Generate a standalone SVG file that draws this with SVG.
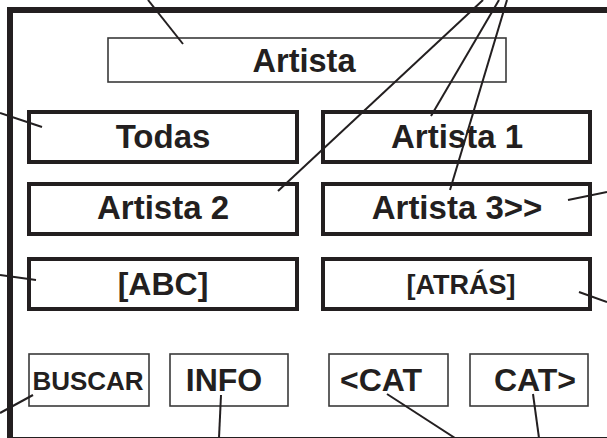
<svg xmlns="http://www.w3.org/2000/svg" width="607" height="438" viewBox="0 0 607 438">
<style>
.frame{fill:none;stroke:#231f20;stroke-width:6}
.big{fill:#fff;stroke:#231f20;stroke-width:4}
.thin{fill:#fff;stroke:#3a3a3a;stroke-width:1.6}
.t{font-family:"Liberation Sans",Arial,sans-serif;font-weight:bold;fill:#231f20;text-anchor:middle}
.c{stroke:#231f20;stroke-width:2;fill:none}
</style>
<rect x="0" y="0" width="607" height="438" fill="#fff"/>
<rect class="frame" x="10" y="10" width="700" height="430"/>
<g id="title"><rect class="thin" x="108" y="38" width="398" height="44"/><text class="t" x="304" y="72" font-size="32.5">Artista</text></g>
<g id="todas"><rect class="big" x="29" y="112" width="268" height="50"/><text class="t" x="163" y="148" font-size="33">Todas</text></g>
<g id="artista1"><rect class="big" x="323" y="112" width="267" height="50"/><text class="t" x="457" y="148" font-size="33">Artista 1</text></g>
<g id="artista2"><rect class="big" x="29" y="184" width="268" height="50"/><text class="t" x="163" y="219" font-size="33">Artista 2</text></g>
<g id="artista3"><rect class="big" x="323" y="184" width="267" height="50"/><text class="t" x="457" y="219" font-size="33">Artista 3&gt;&gt;</text></g>
<g id="abc"><rect class="big" x="29" y="259" width="268" height="50"/><text class="t" x="163" y="295" font-size="32">[ABC]</text></g>
<g id="atras"><rect class="big" x="323" y="259" width="267" height="50"/><text class="t" x="461" y="294" font-size="27">[ATRÁS]</text></g>
<g id="buscar"><rect class="thin" x="29" y="354" width="120" height="52"/><text class="t" x="88" y="390" font-size="26">BUSCAR</text></g>
<g id="info"><rect class="thin" x="170" y="354" width="118" height="52"/><text class="t" x="224" y="391" font-size="32">INFO</text></g>
<g id="catprev"><rect class="thin" x="329" y="354" width="119" height="52"/><text class="t" x="381" y="391" font-size="32">&lt;CAT</text></g>
<g id="catnext"><rect class="thin" x="470" y="354" width="118" height="52"/><text class="t" x="535" y="391" font-size="32">CAT&gt;</text></g>
<g id="connectors">
<line class="c" x1="148" y1="0" x2="183" y2="44"/>
<line class="c" x1="483" y1="0" x2="278" y2="191"/>
<line class="c" x1="499" y1="0" x2="431" y2="116"/>
<line class="c" x1="507" y1="0" x2="450" y2="190"/>
<line class="c" x1="0" y1="113" x2="42" y2="127"/>
<line class="c" x1="568" y1="200" x2="607" y2="192"/>
<line class="c" x1="0" y1="275" x2="36" y2="280"/>
<line class="c" x1="579" y1="292" x2="607" y2="302"/>
<line class="c" x1="0" y1="413" x2="33" y2="395"/>
<line class="c" x1="221" y1="395" x2="219" y2="438"/>
<line class="c" x1="387" y1="394" x2="455" y2="438"/>
<line class="c" x1="533" y1="394" x2="539" y2="438"/>
</g>
</svg>
